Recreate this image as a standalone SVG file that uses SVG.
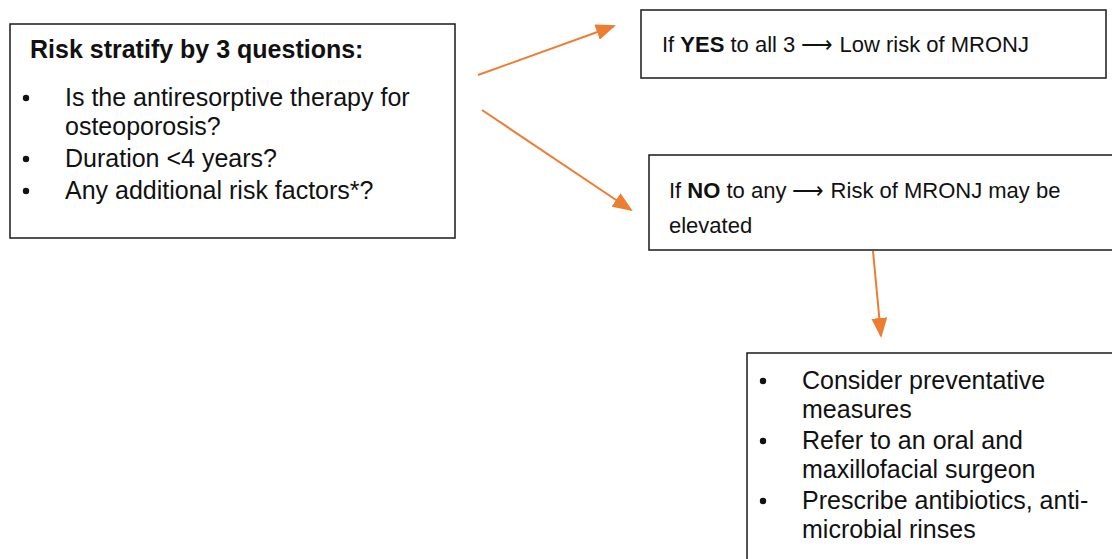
<svg xmlns="http://www.w3.org/2000/svg" width="1112" height="559" viewBox="0 0 1112 559">
<style>
.box{fill:#fff;stroke:#1a1a1a;stroke-width:1.5}
.t{font-family:"Liberation Sans",Arial,sans-serif;fill:#111}
.big{font-size:25px}
.sm{font-size:22px}
.bul{fill:#111}
.conn{stroke:#ED7D31;stroke-width:2;fill:none}
</style>
<defs>
<marker id="ah" markerWidth="10" markerHeight="8" refX="9" refY="4" orient="auto" markerUnits="strokeWidth">
<path d="M0,0 L10,4 L0,8 Z" fill="#ED7D31"/>
</marker>
</defs>
<rect width="1112" height="559" fill="#fff"/>
<g id="connectors">
<line class="conn" x1="478" y1="75" x2="614" y2="26" marker-end="url(#ah)"/>
<line class="conn" x1="482" y1="110" x2="631" y2="210" marker-end="url(#ah)"/>
<line class="conn" x1="873" y1="251" x2="881" y2="336" marker-end="url(#ah)"/>
</g>
<g id="questions">
<rect class="box" x="10" y="24" width="445" height="214"/>
<text class="t big" x="30" y="58" font-weight="bold">Risk stratify by 3 questions:</text>
<circle class="bul" cx="26" cy="98" r="3.2"/>
<text class="t big" x="65" y="106">Is the antiresorptive therapy for</text>
<text class="t big" x="65" y="135">osteoporosis?</text>
<circle class="bul" cx="26" cy="159" r="3.2"/>
<text class="t big" x="65" y="167">Duration &lt;4 years?</text>
<circle class="bul" cx="26" cy="191" r="3.2"/>
<text class="t big" x="65" y="199">Any additional risk factors*?</text>
</g>
<g id="yes">
<rect class="box" x="641" y="10" width="465" height="68"/>
<text class="t sm" x="662" y="52">If <tspan font-weight="bold">YES</tspan> to all 3 ⟶ Low risk of MRONJ</text>
</g>
<g id="no">
<rect class="box" x="649" y="155" width="470" height="95"/>
<text class="t sm" x="669" y="198">If <tspan font-weight="bold">NO</tspan> to any ⟶ Risk of MRONJ may be</text>
<text class="t sm" x="669" y="233">elevated</text>
</g>
<g id="actions">
<rect class="box" x="747" y="353" width="380" height="220"/>
<circle class="bul" cx="763" cy="381" r="3.2"/>
<text class="t big" x="802" y="389">Consider preventative</text>
<text class="t big" x="802" y="418">measures</text>
<circle class="bul" cx="763" cy="441" r="3.2"/>
<text class="t big" x="802" y="449">Refer to an oral and</text>
<text class="t big" x="802" y="478">maxillofacial surgeon</text>
<circle class="bul" cx="763" cy="501" r="3.2"/>
<text class="t big" x="802" y="509">Prescribe antibiotics, anti-</text>
<text class="t big" x="802" y="538">microbial rinses</text>
</g>
</svg>
